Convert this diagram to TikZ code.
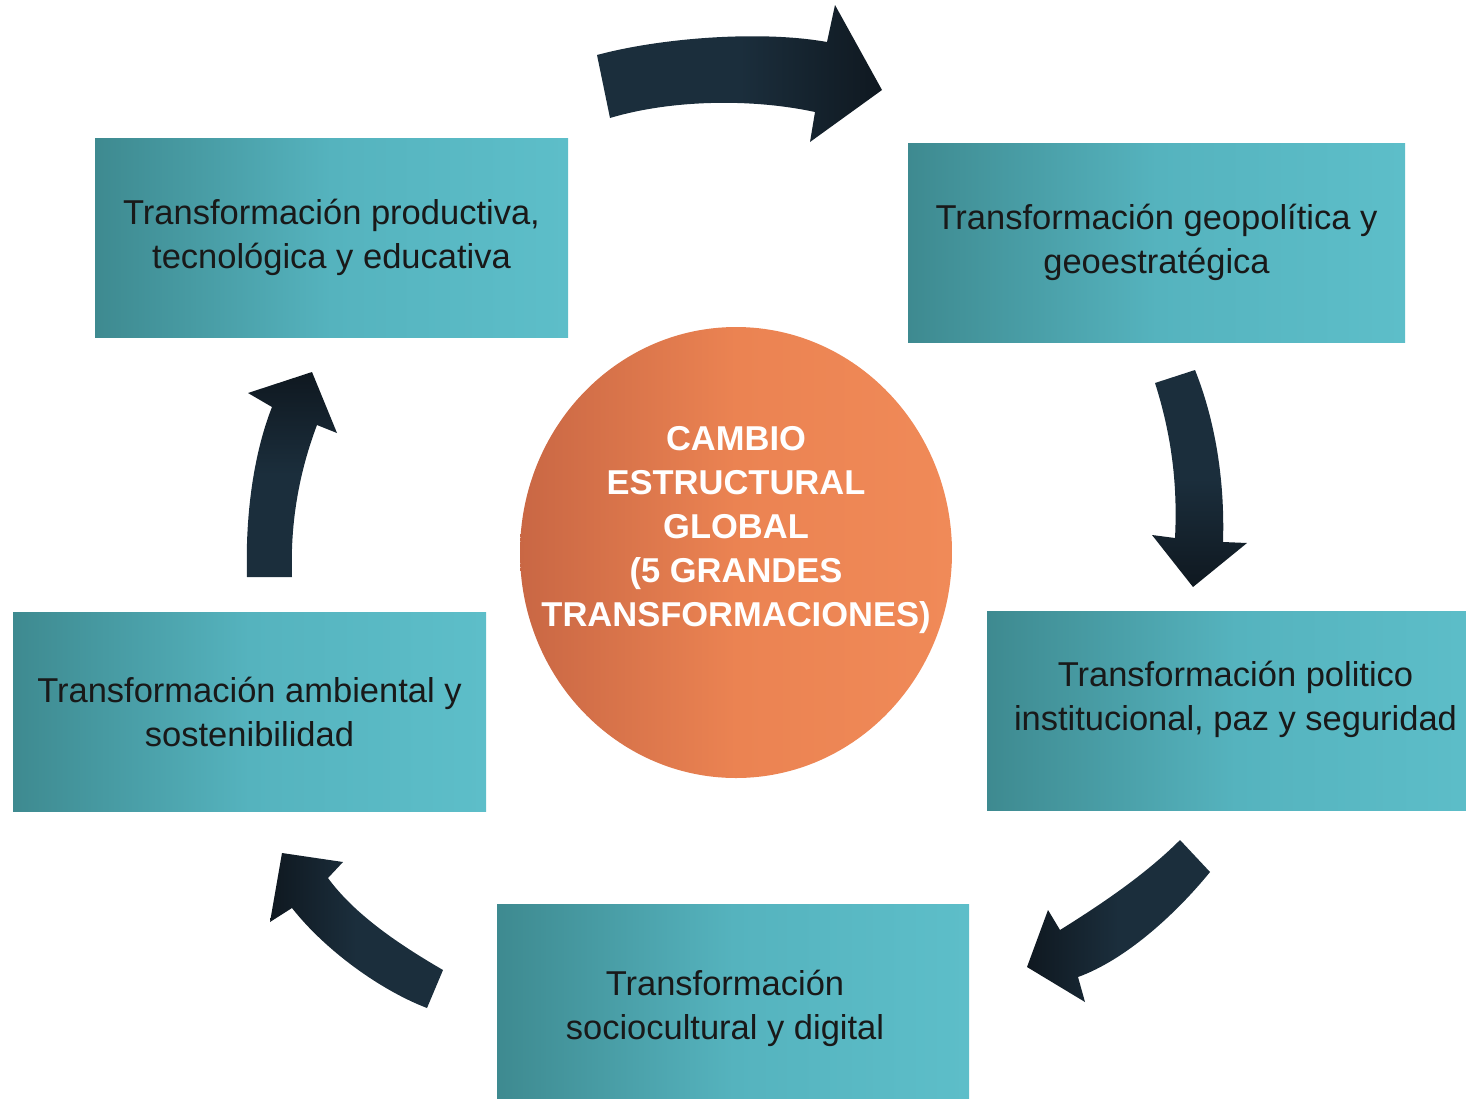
\documentclass[tikz,border=0pt]{standalone}
\usepackage{fontspec}
\setmainfont{Liberation Sans}
\usetikzlibrary{positioning,shapes.geometric}
\definecolor{tealL}{HTML}{3E8A90}
\definecolor{tealM}{HTML}{55B3BE}
\definecolor{tealR}{HTML}{5DBEC9}
\definecolor{naranjaL}{HTML}{C96744}
\definecolor{naranjaM}{HTML}{EB8352}
\definecolor{naranjaR}{HTML}{F08A58}
\definecolor{flecha}{HTML}{1B2E3C}
\definecolor{flechaD}{HTML}{0F1820}
\tikzset{
	caja/.style={rectangle, minimum width=473pt, minimum height=199pt, inner sep=0pt,
		left color=tealL, right color=tealR, middle color=tealM,
		align=center, text=black!90, font=\fontsize{34.5}{44}\selectfont},
	texto/.style={align=center, inner sep=0pt, text=black!90, font=\fontsize{34.5}{44}\selectfont},
	circulo/.style={ellipse, minimum width=432pt, minimum height=451pt, inner sep=0pt,
		left color=naranjaL, right color=naranjaR, middle color=naranjaM},
	textocirc/.style={align=center, inner sep=0pt, text=white, font=\bfseries\fontsize{34.5}{44}\selectfont}
}
\begin{document}
\begin{tikzpicture}[x=1pt, y=-1pt, line join=round, line cap=round]
	\useasboundingbox (0,0) rectangle (1466,1098);
	\clip (0,0) rectangle (1466,1098);
	% cajas
	\node[caja] (prod) at (331.5,237.5) {Transformación productiva,\\tecnológica y educativa};
	\node[caja, minimum width=497pt] (geo) at (1156.5,242.5) {Transformación geopolítica y\\geoestratégica};
	\node[caja, minimum width=497pt] (pol) at (1235.5,711) {};
	\node[texto] (poltxt) at ([yshift=12pt]pol.center) {Transformación politico\\institucional, paz y seguridad};
	\node[caja, minimum width=472pt] (socio) at (733,1003.5) {};
	\node[texto] (sociotxt) at ([xshift=-8pt, yshift=-5pt]socio.center) {Transformación\\sociocultural y digital};
	\node[caja] (amb) at (249.5,711.5) {Transformación ambiental y\\sostenibilidad};
	% centro
	\node[circulo] (cambio) at (736,552.5) {};
	\node[textocirc] (cambiotxt) at ([yshift=22pt]cambio.center) {CAMBIO\\ESTRUCTURAL\\GLOBAL\\(5 GRANDES\\TRANSFORMACIONES)};
	% flechas
	\shade[left color=flecha, right color=flechaD, middle color=flecha] (597,55) .. controls (660,38) and (760,30) .. (827,42) -- (835,5) -- (882,90) -- (810,142) -- (815,112) .. controls (750,98) and (670,100) .. (610,118) -- cycle;
	\shade[top color=flecha, bottom color=flechaD, middle color=flecha] (1155,383) -- (1195,370) .. controls (1215,420) and (1225,480) .. (1223,542) -- (1247,543) -- (1193,587) -- (1152,535) -- (1175,538) .. controls (1178,480) and (1170,430) .. (1155,383) -- cycle;
	\shade[right color=flecha, left color=flechaD, middle color=flecha] (1180,840) .. controls (1145,875) and (1100,905) .. (1060,930) -- (1048,910) -- (1027,967) -- (1085,1002) -- (1078,977) .. controls (1125,960) and (1175,915) .. (1210,872) -- cycle;
	\shade[left color=flechaD, right color=flecha, middle color=flecha] (443,970) .. controls (400,945) and (355,915) .. (328,878) -- (343,862) -- (282,853) -- (270,922) -- (292,908) .. controls (325,950) and (380,990) .. (427,1008) -- cycle;
	\shade[top color=flechaD, bottom color=flecha, middle color=flecha] (247,577) .. controls (245,510) and (255,450) .. (272,407) -- (248,393) -- (312,372) -- (337,433) -- (317,425) .. controls (300,470) and (290,520) .. (292,577) -- cycle;
\end{tikzpicture}
\end{document}
